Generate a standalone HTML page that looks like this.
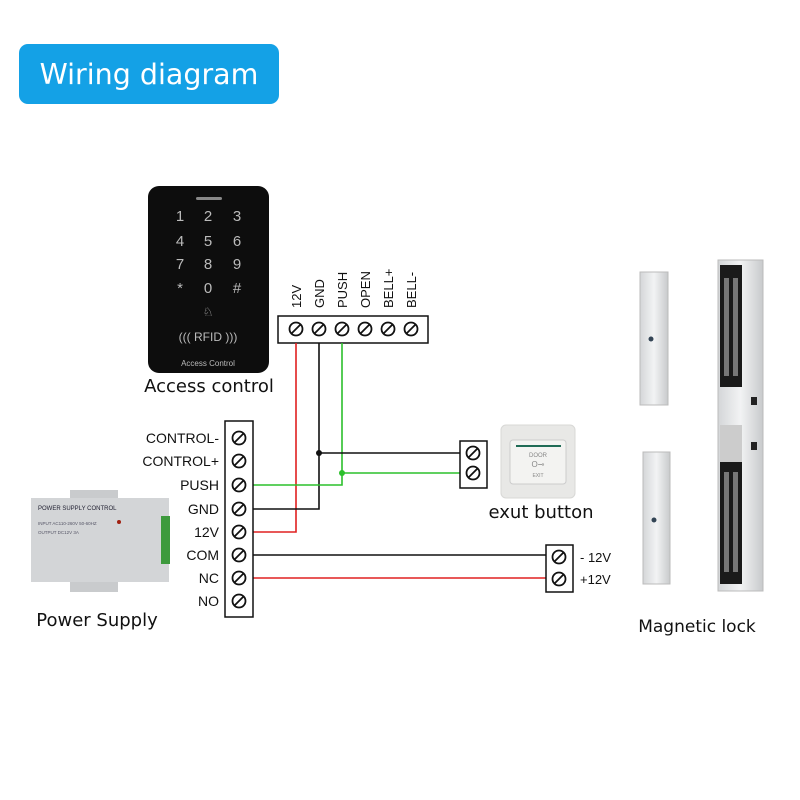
<!DOCTYPE html>
<html><head><style>body{margin:0;background:#fff}svg{display:block}</style></head><body>
<svg width="800" height="800" viewBox="0 0 800 800" xmlns="http://www.w3.org/2000/svg" font-family="Liberation Sans, sans-serif">
<defs>
<g id="scr"><circle r="6.5" fill="#fff" stroke="#111" stroke-width="1.8"/><line x1="-4.5" y1="4.5" x2="4.5" y2="-4.5" stroke="#111" stroke-width="1.8"/></g>
<linearGradient id="al" x1="0" x2="1"><stop offset="0" stop-color="#d4d6d8"/><stop offset=".5" stop-color="#f2f3f4"/><stop offset="1" stop-color="#c8cacc"/></linearGradient>
</defs>
<rect x="19" y="44" width="260" height="60" rx="9" fill="#14a1e6"/>
<text x="149" y="84" text-anchor="middle" font-size="28.5" fill="#fff" font-family="DejaVu Sans, sans-serif">Wiring diagram</text>

<!-- keypad -->
<rect x="148" y="186" width="121" height="187" rx="11" fill="#0d0d0d"/>
<rect x="196" y="197" width="26" height="3" rx="1.5" fill="#888"/>
<g fill="#bbb" font-size="15" text-anchor="middle">
<text x="180" y="221">1</text><text x="208" y="221">2</text><text x="237" y="221">3</text>
<text x="180" y="246">4</text><text x="208" y="246">5</text><text x="237" y="246">6</text>
<text x="180" y="269">7</text><text x="208" y="269">8</text><text x="237" y="269">9</text>
<text x="180" y="293">*</text><text x="208" y="293">0</text><text x="237" y="293">#</text>
<text x="208" y="316" font-size="12">♘</text>
<text x="208" y="341" font-size="12">((( RFID )))</text>
<text x="208" y="366" font-size="8">Access Control</text>
</g>
<text x="209" y="392" text-anchor="middle" font-size="18" fill="#111" font-family="DejaVu Sans, sans-serif">Access control</text>

<!-- top terminal -->
<rect x="278" y="316" width="150" height="27" fill="#fff" stroke="#111" stroke-width="1.5"/>
<use href="#scr" x="296" y="329"/><use href="#scr" x="319" y="329"/><use href="#scr" x="342" y="329"/>
<use href="#scr" x="365" y="329"/><use href="#scr" x="388" y="329"/><use href="#scr" x="411" y="329"/>
<g font-size="13" fill="#111">
<text transform="translate(301,308) rotate(-90)">12V</text>
<text transform="translate(324,308) rotate(-90)">GND</text>
<text transform="translate(347,308) rotate(-90)">PUSH</text>
<text transform="translate(370,308) rotate(-90)">OPEN</text>
<text transform="translate(393,308) rotate(-90)">BELL+</text>
<text transform="translate(416,308) rotate(-90)">BELL-</text>
</g>

<!-- wires -->
<g fill="none" stroke-width="1.6">
<polyline points="296,343 296,532 253,532" stroke="#e02020"/>
<polyline points="319,343 319,509 253,509" stroke="#111"/>
<polyline points="342,343 342,485 253,485" stroke="#2cc02c"/>
<line x1="319" y1="453" x2="460" y2="453" stroke="#111"/>
<line x1="342" y1="473" x2="460" y2="473" stroke="#2cc02c"/>
<line x1="253" y1="555" x2="546" y2="555" stroke="#111"/>
<line x1="253" y1="578" x2="546" y2="578" stroke="#e02020"/>
</g>
<circle cx="319" cy="453" r="3" fill="#111"/>
<circle cx="342" cy="473" r="3" fill="#2cc02c"/>

<!-- left terminal -->
<rect x="225" y="421" width="28" height="196" fill="#fff" stroke="#111" stroke-width="1.5"/>
<g font-size="14" fill="#111" text-anchor="end">
<use href="#scr" x="239" y="438"/><text x="219" y="443">CONTROL-</text>
<use href="#scr" x="239" y="461"/><text x="219" y="466">CONTROL+</text>
<use href="#scr" x="239" y="485"/><text x="219" y="490">PUSH</text>
<use href="#scr" x="239" y="509"/><text x="219" y="514">GND</text>
<use href="#scr" x="239" y="532"/><text x="219" y="537">12V</text>
<use href="#scr" x="239" y="555"/><text x="219" y="560">COM</text>
<use href="#scr" x="239" y="578"/><text x="219" y="583">NC</text>
<use href="#scr" x="239" y="601"/><text x="219" y="606">NO</text>
</g>

<!-- power supply -->
<rect x="70" y="490" width="48" height="12" fill="#c9cbcd"/>
<rect x="70" y="578" width="48" height="14" fill="#c9cbcd"/>
<rect x="31" y="498" width="138" height="84" fill="#d3d5d7"/>
<rect x="161" y="516" width="9" height="48" fill="#3d9a3d"/>
<text x="38" y="510" font-size="6" fill="#223">POWER SUPPLY CONTROL</text>
<text x="38" y="525" font-size="4.5" fill="#556">INPUT AC110-260V 50-60HZ</text>
<text x="38" y="534" font-size="4.5" fill="#556">OUTPUT DC12V 3A</text>
<circle cx="119" cy="522" r="2" fill="#a02010"/>
<text x="97" y="626" text-anchor="middle" font-size="18" fill="#111" font-family="DejaVu Sans, sans-serif">Power Supply</text>

<!-- exit button -->
<rect x="460" y="441" width="27" height="47" fill="#fff" stroke="#111" stroke-width="1.5"/>
<use href="#scr" x="473" y="453"/><use href="#scr" x="473" y="473"/>
<rect x="501" y="425" width="74" height="73" rx="5" fill="#e8e8e6" stroke="#d8d8d6"/>
<rect x="510" y="440" width="56" height="44" rx="3" fill="#f3f3f1" stroke="#ccc"/>
<line x1="516" y1="446" x2="561" y2="446" stroke="#1f6b55" stroke-width="2"/>
<text x="538" y="457" font-size="6" fill="#888" text-anchor="middle">DOOR</text>
<text x="538" y="467" font-size="8" fill="#888" text-anchor="middle">O⊸</text>
<text x="538" y="477" font-size="5" fill="#888" text-anchor="middle">EXIT</text>
<text x="541" y="518" text-anchor="middle" font-size="18" fill="#111" font-family="DejaVu Sans, sans-serif">exut button</text>

<!-- lock terminal -->
<rect x="546" y="545" width="27" height="47" fill="#fff" stroke="#111" stroke-width="1.5"/>
<use href="#scr" x="559" y="557"/><use href="#scr" x="559" y="579"/>
<text x="580" y="562" font-size="13" fill="#111">- 12V</text>
<text x="580" y="584" font-size="13" fill="#111">+12V</text>

<!-- magnetic lock -->
<rect x="640" y="272" width="28" height="133" fill="url(#al)" stroke="#bbb"/>
<rect x="643" y="452" width="27" height="132" fill="url(#al)" stroke="#bbb"/>
<circle cx="651" cy="339" r="2.5" fill="#345"/><circle cx="654" cy="520" r="2.5" fill="#345"/>
<rect x="718" y="260" width="45" height="331" fill="url(#al)" stroke="#bbb"/>
<rect x="720" y="265" width="22" height="122" fill="#1a1a1a"/>
<rect x="724" y="278" width="5" height="98" fill="#777"/><rect x="733" y="278" width="5" height="98" fill="#777"/>
<rect x="720" y="462" width="22" height="122" fill="#1a1a1a"/>
<rect x="724" y="472" width="5" height="100" fill="#777"/><rect x="733" y="472" width="5" height="100" fill="#777"/>
<rect x="720" y="425" width="22" height="37" fill="#ccc"/>
<rect x="751" y="397" width="6" height="8" fill="#222"/><rect x="751" y="442" width="6" height="8" fill="#222"/>
<text x="697" y="632" text-anchor="middle" font-size="17" fill="#111" font-family="DejaVu Sans, sans-serif">Magnetic lock</text>
</svg>
</body></html>
